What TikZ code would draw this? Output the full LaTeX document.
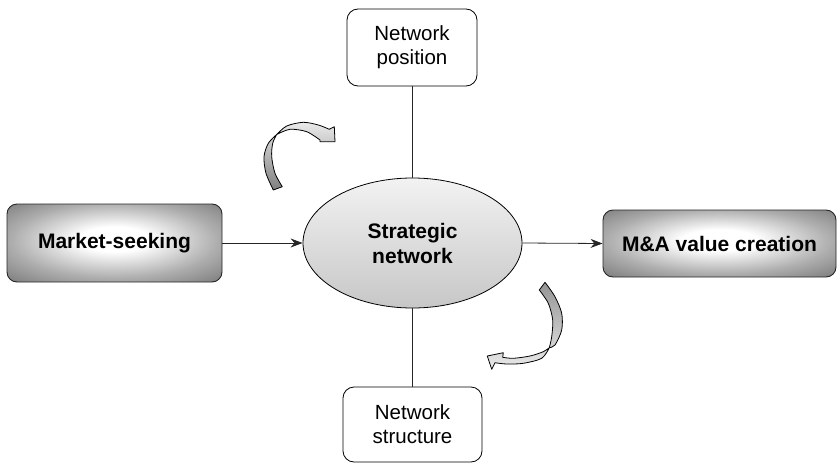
\documentclass[tikz,border=0pt]{standalone}
\usepackage{fontspec}
\setmainfont{Liberation Sans}
\usetikzlibrary{arrows.meta,shapes.geometric}
\pgfdeclareradialshading{boxshade}{\pgfpoint{0bp}{3bp}}{color(0bp)=(white); color(8bp)=(white); color(24bp)=(black!32); color(34bp)=(black!48); color(50bp)=(black!48)}
\begin{document}
\begin{tikzpicture}[x=1pt,y=-1pt,
  whitebox/.style={draw=black,line width=0.8pt,rounded corners=11pt,fill=white,
    align=center,font=\fontsize{20.5}{24}\selectfont,inner sep=0pt},
  graybox/.style={draw=black!85,line width=0.9pt,rounded corners=10pt,
    shading=boxshade,
    align=center,font=\fontsize{21}{25}\selectfont\bfseries,inner sep=0pt},
  ellnode/.style={ellipse,draw=black,line width=0.8pt,top color=black!5,bottom color=black!22,
    align=center,font=\fontsize{21}{25}\selectfont\bfseries,inner sep=0pt},
  conn/.style={draw=black!85,line width=0.8pt},
  flow/.style={conn,-{Stealth[length=12pt,width=9pt]}},
  bentarrow/.style={draw=black,line width=0.8pt,line join=round}
]
\useasboundingbox (0,0) rectangle (838,463);

\node[whitebox,minimum width=130pt,minimum height=77pt] (pos) at (412,47.5) {Network\\position};
\node[whitebox,minimum width=139pt,minimum height=75pt] (str) at (412.5,424.5) {Network\\structure};
\node[ellnode,minimum width=219pt,minimum height=130pt] (ell) at (412.5,243) {Strategic\\network};
\node[graybox,minimum width=215pt,minimum height=78pt] (mkt) at (114.5,243) {Market-seeking};
\node[graybox,minimum width=233pt,minimum height=67pt] (ma) at (719.5,243.5) {M\&A value creation};

\draw[conn] (ell.north) -- (ell.north |- pos.south);
\draw[conn] (ell.south) -- (ell.south |- str.north);
\draw[flow] (mkt.east) -- (ell.west);
\draw[flow] (ell.east) -- (ma.west);

% top-left curved arrow
\path[bentarrow,top color=black!8,bottom color=black!50]
  (273.3,190) -- plot[smooth] coordinates {(273.3,190) (266,173.3) (264,156.7) (268.3,143.3) (276.7,134.5)}
  -- plot[smooth] coordinates {(276.7,134.5) (286.7,126) (303.3,122.3) (318.3,125) (329.3,129.3)}
  -- (334.3,126.7) -- (335,141.7) -- (320,141.7)
  -- plot[smooth] coordinates {(320,140) (306.7,131.7) (290,129.3) (276.7,134.5)}
  -- plot[smooth] coordinates {(276.7,134.5) (272.7,143.3) (271.7,156.7) (275,173.3) (282.3,186.7)}
  -- cycle;

% bottom-right curved arrow
\path[bentarrow,top color=black!42,bottom color=black!8]
  (539.3,290) -- (545,282.3)
  -- plot[smooth] coordinates {(545,282.3) (555,296.7) (561.7,313.3) (561.7,330) (555,345) (549.3,347.7)}
  -- plot[smooth] coordinates {(549.3,347.7) (541.7,358.3) (523.3,363.3) (506.7,364) (495,362.7)}
  -- (491.7,369.3) -- (487.3,356) -- (503.3,352.7)
  -- plot[smooth] coordinates {(502.7,357.3) (513.3,358.3) (530,356) (543.3,351.7) (549.3,347.7)}
  -- plot[smooth] coordinates {(549.3,347.7) (551.7,336.7) (552.7,320) (548.3,303.3) (539.3,290)}
  -- cycle;
\end{tikzpicture}
\end{document}
